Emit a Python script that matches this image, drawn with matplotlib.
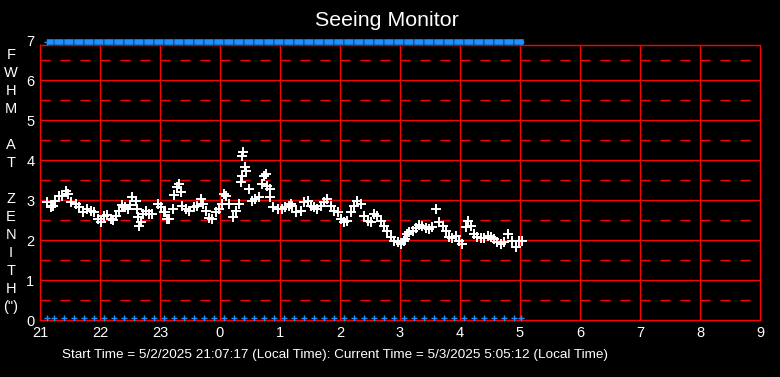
import matplotlib
matplotlib.use("Agg")
import matplotlib.pyplot as plt

# seeing samples: hours after 21:00 and FWHM (arcsec)
hours = [
    0.12, 0.18, 0.22, 0.25, 0.31, 0.36, 0.43, 0.46, 0.51, 0.60, 0.65, 0.71,
    0.79, 0.85, 0.90, 0.97, 1.01, 1.07, 1.12, 1.18, 1.22, 1.27, 1.32, 1.37,
    1.42, 1.46, 1.50, 1.54, 1.60, 1.61, 1.63, 1.65, 1.68, 1.71, 1.76, 1.82,
    1.87, 1.96, 2.01, 2.07, 2.12, 2.08, 2.15, 2.21, 2.23, 2.29, 2.32, 2.35,
    2.37, 2.43, 2.48, 2.57, 2.62, 2.68, 2.72, 2.76, 2.82, 2.87, 2.93, 2.98,
    3.04, 3.07, 3.10, 3.15, 3.21, 3.26, 3.32, 3.35, 3.36, 3.37, 3.38, 3.41,
    3.43, 3.48, 3.54, 3.59, 3.65, 3.70, 3.73, 3.76, 3.79, 3.83, 3.84, 3.89,
    3.96, 4.04, 4.09, 4.18, 4.15, 4.20, 4.26, 4.35, 4.40, 4.46, 4.51, 4.57,
    4.62, 4.68, 4.73, 4.79, 4.85, 4.90, 4.97, 5.01, 5.07, 5.12, 5.18, 5.23,
    5.29, 5.35, 5.40, 5.46, 5.51, 5.57, 5.62, 5.68, 5.73, 5.79, 5.85, 5.90,
    5.96, 6.01, 6.07, 6.12, 6.08, 6.15, 6.21, 6.26, 6.32, 6.37, 6.43, 6.48,
    6.54, 6.60, 6.65, 6.71, 6.76, 6.82, 6.87, 6.93, 6.98, 7.04, 7.10, 7.13,
    7.18, 7.23, 7.29, 7.35, 7.40, 7.46, 7.51, 7.57, 7.62, 7.68, 7.73, 7.80,
    7.86, 7.93, 7.98, 8.04,
]
fwhm = [
    2.96, 2.82, 2.86, 2.98, 3.11, 3.11, 3.23, 3.15, 2.94, 2.90, 2.82, 2.69,
    2.78, 2.73, 2.69, 2.53, 2.46, 2.61, 2.63, 2.53, 2.51, 2.61, 2.73, 2.88,
    2.82, 2.78, 2.88, 3.07, 2.98, 2.78, 2.58, 2.36, 2.44, 2.65, 2.73, 2.65,
    2.65, 2.90, 2.82, 2.71, 2.53, 2.69, 2.53, 2.78, 3.13, 3.32, 3.40, 3.19,
    2.86, 2.78, 2.73, 2.82, 2.86, 3.03, 2.90, 2.73, 2.54, 2.53, 2.69, 2.78,
    2.90, 3.15, 3.11, 2.90, 2.57, 2.73, 2.90, 3.44, 3.61, 4.09, 4.19, 3.82,
    3.73, 3.27, 2.98, 3.03, 3.07, 3.40, 3.61, 3.65, 3.36, 3.28, 3.07, 2.82,
    2.78, 2.78, 2.82, 2.90, 2.86, 2.86, 2.69, 2.73, 2.94, 2.98, 2.86, 2.82,
    2.78, 2.86, 2.94, 3.03, 2.86, 2.73, 2.69, 2.53, 2.44, 2.48, 2.69, 2.86,
    2.98, 2.90, 2.61, 2.48, 2.44, 2.65, 2.61, 2.48, 2.36, 2.23, 2.07, 1.98,
    1.94, 1.90, 1.98, 2.15, 2.03, 2.19, 2.23, 2.29, 2.38, 2.36, 2.29, 2.28,
    2.32, 2.78, 2.44, 2.36, 2.23, 2.07, 2.04, 2.11, 1.98, 1.90, 2.32, 2.48,
    2.36, 2.15, 2.07, 2.04, 2.04, 2.11, 2.07, 2.03, 1.94, 1.90, 1.94, 2.15,
    1.98, 1.82, 1.98, 1.98,
]

# status markers every ~10 minutes
status_hours = [
    0.11, 0.23, 0.40, 0.57, 0.73, 0.90, 1.07, 1.23, 1.40, 1.57, 1.73, 1.90,
    2.07, 2.23, 2.40, 2.57, 2.73, 2.90, 3.07, 3.23, 3.40, 3.57, 3.73, 3.90,
    4.07, 4.23, 4.40, 4.57, 4.73, 4.90, 5.07, 5.23, 5.40, 5.57, 5.73, 5.90,
    6.07, 6.23, 6.40, 6.57, 6.73, 6.90, 7.07, 7.23, 7.40, 7.57, 7.73, 7.90,
    8.02,
]
top_level = 6.94
bottom_level = 0.05
frame_top = 6.88

xticks = list(range(21, 34))
xtick_labels = [str(h % 24) for h in xticks]
yticks = list(range(0, 8))

plt.rcParams['font.family'] = ['Liberation Sans', 'DejaVu Sans']

fig = plt.figure(figsize=(7.8, 3.77), dpi=100, facecolor="black")
ax = fig.add_axes([40 / 780, 1 - 320 / 377, 720 / 780, 280 / 377])
ax.set_facecolor("black")

ax.set_xlim(21, 33)
ax.set_ylim(0, 7)

# grid: solid at whole units, dashed at halves
for v in yticks[1:]:
    ax.axhline(v - 0.5, color="red", lw=1.0, dashes=(7.2, 7.2), zorder=1)
for v in yticks[1:-1]:
    ax.axhline(v, color="red", lw=1.0, zorder=1)
ax.axhline(frame_top, color="red", lw=1.0, zorder=1)
ax.vlines(xticks[1:-1], 0, frame_top, color="red", lw=1.0, zorder=1)

for side in ["left", "bottom", "right"]:
    ax.spines[side].set_color("red")
    ax.spines[side].set_linewidth(1.0)
ax.spines["top"].set_visible(False)
ax.spines["right"].set_bounds(0, frame_top)
ax.spines["left"].set_bounds(0, frame_top)

t = [21 + h for h in hours]
ax.plot(t, fwhm, linestyle="none", marker="+", color="white",
        markersize=6.5, markeredgewidth=1.4, zorder=3)

ts = [21 + h for h in status_hours]
blue = "#1e90ff"
ax.plot(ts[:-1], [top_level] * (len(ts) - 1), linestyle="none",
        marker=[(0, -0.3), (1, -0.3), (1, 0.3), (0, 0.3), (0, -0.3)],
        color=blue, markersize=14.4, markeredgecolor="black",
        markeredgewidth=0.3, clip_on=False, zorder=4)
ax.plot([ts[0], ts[-1]], [top_level, top_level], linestyle="none",
        marker="+", color=blue, markersize=5, markeredgewidth=1.0,
        clip_on=False, zorder=4)
ax.plot(ts, [bottom_level] * len(ts), linestyle="none", marker="+",
        color=blue, markersize=5, markeredgewidth=1.0, clip_on=False,
        zorder=4)

ax.set_xticks(xticks)
ax.set_xticklabels(xtick_labels)
ax.set_yticks(yticks)
ax.tick_params(colors="white", labelsize=10.5, length=0, pad=4)

fig.text(387 / 780, 1 - 20 / 377, "Seeing Monitor", color="white",
         fontsize=15.4, ha="center", va="center")

ylabel = ["F", "W", "H", "M", "", "A", "T", "", "Z", "E", "N", "I", "T", "H", '(")']
for i, ch in enumerate(ylabel):
    fig.text(11 / 780, 1 - (55 + 18 * i) / 377, ch, color="white",
             fontsize=10.5, ha="center", va="center")

fig.text(62 / 780, 1 - 355 / 377,
         "Start Time = 5/2/2025 21:07:17 (Local Time): "
         "Current Time = 5/3/2025 5:05:12 (Local Time)",
         color="white", fontsize=9.7, ha="left", va="center")

fig.savefig("out.png", dpi=100, facecolor="black")
